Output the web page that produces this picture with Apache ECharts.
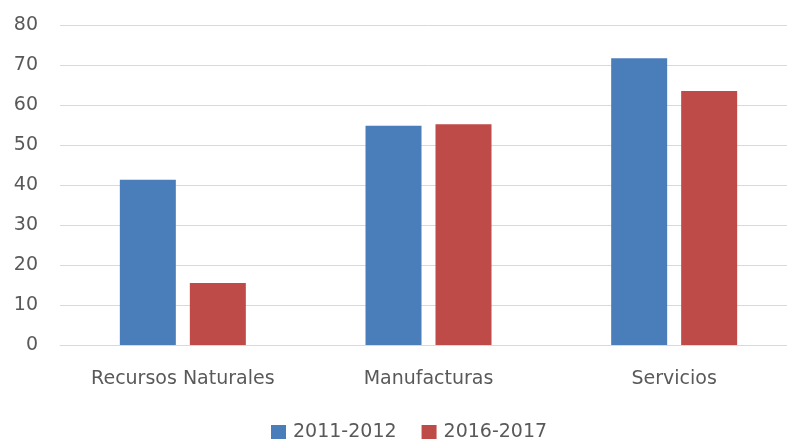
<!DOCTYPE html>
<html>
<head>
<meta charset="utf-8">
<script src="https://cdn.jsdelivr.net/npm/echarts@6/dist/echarts.min.js"></script>
<style>
html,body{margin:0;padding:0;background:#fff;overflow:hidden;}
#chart{width:800px;height:439px;}
</style>
</head>
<body>
<div id="chart"></div>
<script>
const categories = ['Recursos Naturales', 'Manufacturas', 'Servicios'];
const seriesNames = ['2011-2012', '2016-2017'];
const values2011 = [41.3, 54.8, 71.7];
const values2016 = [15.5, 55.2, 63.5];
const yTicks = [0, 10, 20, 30, 40, 50, 60, 70, 80];

const font = "'DejaVu Sans', sans-serif";
const chart = echarts.init(document.getElementById('chart'), null, {renderer: 'canvas'});
chart.setOption({
  animation: false,
  backgroundColor: '#ffffff',
  grid: {left: 60, right: 3, top: 25, bottom: 94, containLabel: false},
  legend: {
    data: seriesNames,
    top: 418,
    left: 266,
    itemWidth: 15,
    itemHeight: 15,
    itemGap: 25,
    icon: 'rect',
    textStyle: {fontFamily: font, fontSize: 19, color: '#595959', padding: [0,0,0,2]}
  },
  xAxis: {
    type: 'category',
    data: categories,
    axisLine: {show: true, lineStyle: {color: '#d9d9d9', width: 1}},
    axisTick: {show: false},
    axisLabel: {fontFamily: font, fontSize: 19, color: '#595959', margin: 25}
  },
  yAxis: {
    type: 'value',
    min: yTicks[0],
    max: yTicks[yTicks.length - 1],
    interval: 10,
    axisLine: {show: false},
    axisTick: {show: false},
    splitLine: {lineStyle: {color: '#d9d9d9', width: 1}},
    axisLabel: {fontFamily: font, fontSize: 19, color: '#595959', margin: 22}
  },
  series: [
    {name: seriesNames[0], type: 'bar', data: values2011, barWidth: 56, barGap: '25%',
     itemStyle: {color: '#4a7ebb'}},
    {name: seriesNames[1], type: 'bar', data: values2016, barWidth: 56, barGap: '25%',
     itemStyle: {color: '#be4b48'}}
  ]
});
</script>
</body>
</html>
